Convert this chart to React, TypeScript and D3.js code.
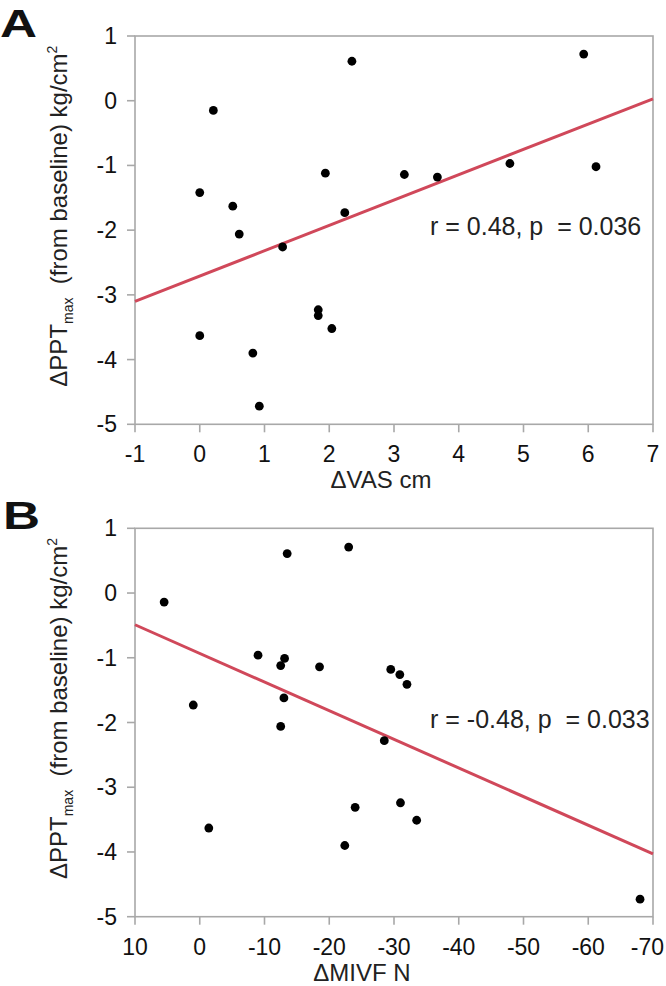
import React from "react";
import * as d3 from "d3";

// Panel A: ΔVAS (cm) vs ΔPPTmax
const vasX = [0.21, 0, 0.51, 0.61, 1.94, 1.28, 2.35, 5.93, 3.16, 3.67, 4.79, 6.12, 2.24, 0, 0.82, 0.92, 1.83, 1.83, 2.04];
const vasY = [-0.15, -1.42, -1.63, -2.06, -1.12, -2.26, 0.61, 0.72, -1.14, -1.18, -0.97, -1.02, -1.73, -3.63, -3.9, -4.72, -3.23, -3.32, -3.52];
const fitAx = [-1, 7];
const fitAy = [-3.1, 0.03];
const statA = "r = 0.48, p  = 0.036";
const xTicksA = [-1, 0, 1, 2, 3, 4, 5, 6, 7];

// Panel B: ΔMIVF (N) vs ΔPPTmax
const mivfX = [5.5, -13.5, -9.0, -13.1, -12.5, -18.5, 1.0, -13.0, -12.5, -23.0, -29.5, -30.9, -32.0, -28.5, -24.0, -31.0, -33.5, -22.4, -68.0, -1.4];
const mivfY = [-0.14, 0.61, -0.96, -1.01, -1.12, -1.14, -1.73, -1.62, -2.06, 0.71, -1.18, -1.26, -1.41, -2.28, -3.31, -3.24, -3.51, -3.9, -4.73, -3.63];
const fitBx = [10, -70];
const fitBy = [-0.49, -4.03];
const statB = "r = -0.48, p  = 0.033";
const xTicksB = [10, 0, -10, -20, -30, -40, -50, -60, -70];

const yTicks = [1, 0, -1, -2, -3, -4, -5];

const FONT = "'Liberation Sans', Arial, Helvetica, sans-serif";
const AXIS = "#a8a8a8";
const RED = "#d0485a";
const TICK_FS = 23;

function fmt(t: number) {
  return t < 0 ? "-" + Math.abs(t) : String(t);
}
function estWidth(s: string, fs: number) {
  let w = 0;
  for (const c of s) w += c === "-" ? 0.333 : 0.556;
  return w * fs;
}

type PanelProps = {
  letter: string;
  top: number;
  bottom: number;
  xs: number[];
  ys: number[];
  fx: number[];
  fy: number[];
  xDomain: [number, number];
  xTicks: number[];
  stat: string;
  xLabel: string;
  xLabelX: number;
  letterX: number;
};

function Panel(p: PanelProps) {
  const left = 135;
  const right = 653;
  const x = d3.scaleLinear().domain(p.xDomain).range([left, right]);
  const y = d3.scaleLinear().domain([-5, 1]).range([p.bottom, p.top]);
  const line = d3
    .line<number>()
    .x((d) => x(p.fx[d]))
    .y((d) => y(p.fy[d]));
  const mid = (p.top + p.bottom) / 2 - 14;
  return (
    <g>
      <text
        x={0}
        y={0}
        transform={`translate(${p.letterX},${p.top + 1}) scale(1.35,1)`}
        fontSize={38}
        fontWeight="bold"
        fontFamily={FONT}
        fill="#111"
      >
        {p.letter}
      </text>
      <rect x={left} y={p.top} width={right - left} height={p.bottom - p.top} fill="none" stroke={AXIS} strokeWidth={1.6} />
      {yTicks.map((t) => (
        <g key={"y" + t}>
          <line x1={left - 8} x2={left} y1={y(t)} y2={y(t)} stroke={AXIS} strokeWidth={1.6} />
          <text x={left - 18} y={y(t) + 8} textAnchor="end" fontSize={TICK_FS} fontFamily={FONT} fill="#111">
            {fmt(t)}
          </text>
        </g>
      ))}
      {p.xTicks.map((t) => {
        const s = fmt(t);
        const w = estWidth(s, TICK_FS);
        const cx = Math.min(x(t), 664 - w / 2);
        return (
          <g key={"x" + t}>
            <line x1={x(t)} x2={x(t)} y1={p.bottom} y2={p.bottom + 8} stroke={AXIS} strokeWidth={1.6} />
            <text x={cx} y={p.bottom + 38} textAnchor="middle" fontSize={TICK_FS} fontFamily={FONT} fill="#111">
              {s}
            </text>
          </g>
        );
      })}
      <path d={line(p.fx.map((_, i) => i)) || ""} stroke={RED} strokeWidth={3} fill="none" />
      {p.xs.map((v, i) => (
        <circle key={i} cx={x(v)} cy={y(p.ys[i])} r={4.4} fill="#000" />
      ))}
      <text x={430} y={y(-2) + 5} fontSize={25} fontFamily={FONT} fill="#222" style={{ whiteSpace: "pre" }}>
        {p.stat}
      </text>
      <text x={p.xLabelX} y={p.bottom + 64} textAnchor="middle" fontSize={24} fontFamily={FONT} fill="#222">
        {p.xLabel}
      </text>
      <text
        transform={`translate(67,${mid}) rotate(-90)`}
        textAnchor="middle"
        fontSize={24}
        fontFamily={FONT}
        fill="#222"
        style={{ whiteSpace: "pre" }}
      >
        ΔPPT
        <tspan fontSize={14} dy={6}>max</tspan>
        <tspan dy={-6}>{"  (from baseline) kg/cm"}</tspan>
        <tspan fontSize={14} dy={-10}>2</tspan>
      </text>
    </g>
  );
}

export default function App() {
  return (
    <svg width={666} height={986} style={{ position: "absolute", left: 0, top: 0, background: "#fff" }}>
      <rect width={666} height={986} fill="#fff" />
      <Panel
        letter="A"
        top={36}
        bottom={424.3}
        xs={vasX}
        ys={vasY}
        fx={fitAx}
        fy={fitAy}
        xDomain={[-1, 7]}
        xTicks={xTicksA}
        stat={statA}
        xLabel="ΔVAS cm"
        xLabelX={381}
        letterX={0}
      />
      <Panel
        letter="B"
        top={528.3}
        bottom={916.7}
        xs={mivfX}
        ys={mivfY}
        fx={fitBx}
        fy={fitBy}
        xDomain={[10, -70]}
        xTicks={xTicksB}
        stat={statB}
        xLabel="ΔMIVF N"
        xLabelX={362}
        letterX={3}
      />
    </svg>
  );
}
